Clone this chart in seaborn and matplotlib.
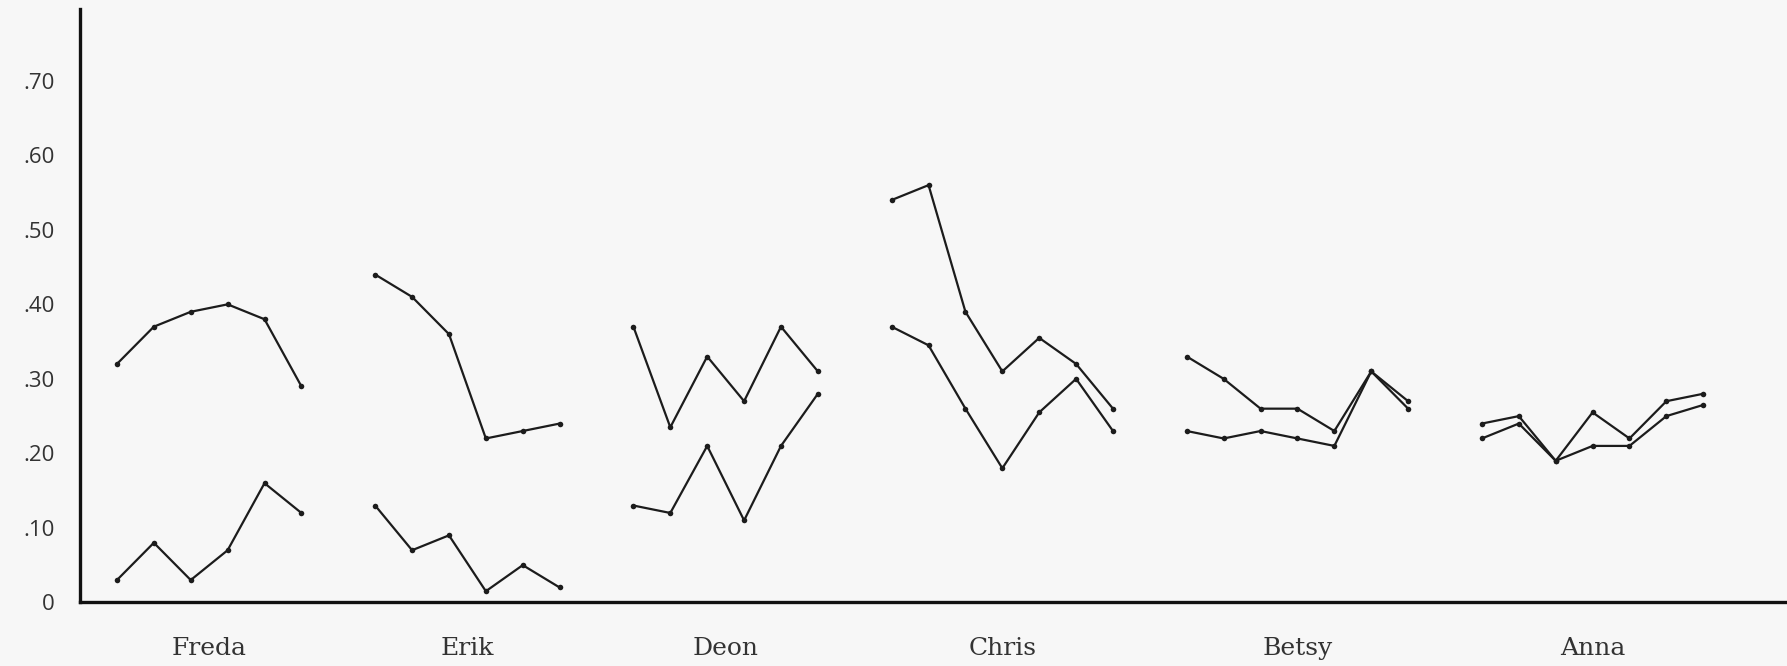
import matplotlib
matplotlib.use("Agg")
import matplotlib.pyplot as plt
import matplotlib.transforms as mtransforms
import seaborn as sns
import pandas as pd

# ---- data ----
people = ["Freda", "Erik", "Deon", "Chris", "Betsy", "Anna"]

freda_upper = [0.32, 0.37, 0.39, 0.40, 0.38, 0.29]
freda_lower = [0.03, 0.08, 0.03, 0.07, 0.16, 0.12]
erik_upper = [0.44, 0.41, 0.36, 0.22, 0.23, 0.24]
erik_lower = [0.13, 0.07, 0.09, 0.015, 0.05, 0.02]
deon_upper = [0.37, 0.235, 0.33, 0.27, 0.37, 0.31]
deon_lower = [0.13, 0.12, 0.21, 0.11, 0.21, 0.28]
chris_upper = [0.54, 0.56, 0.39, 0.31, 0.355, 0.32, 0.26]
chris_lower = [0.37, 0.345, 0.26, 0.18, 0.255, 0.30, 0.23]
betsy_upper = [0.33, 0.30, 0.26, 0.26, 0.23, 0.31, 0.27]
betsy_lower = [0.23, 0.22, 0.23, 0.22, 0.21, 0.31, 0.26]
anna_upper = [0.24, 0.25, 0.19, 0.255, 0.22, 0.27, 0.28]
anna_lower = [0.22, 0.24, 0.19, 0.21, 0.21, 0.25, 0.265]

y_ticks = [0, 0.10, 0.20, 0.30, 0.40, 0.50, 0.60, 0.70]
y_tick_labels = ["0", ".10", ".20", ".30", ".40", ".50", ".60", ".70"]

series = {
    "Freda": (freda_upper, freda_lower),
    "Erik": (erik_upper, erik_lower),
    "Deon": (deon_upper, deon_lower),
    "Chris": (chris_upper, chris_lower),
    "Betsy": (betsy_upper, betsy_lower),
    "Anna": (anna_upper, anna_lower),
}

# ---- build long table ----
rows = []
group_centers = {}
tick_positions = []
start = 0
for name in people:
    upper, lower = series[name]
    n = len(upper)
    for j in range(n):
        pos = start + j
        tick_positions.append(pos)
        rows.append({"person": name, "line": name + "_upper", "pos": pos, "value": upper[j]})
        rows.append({"person": name, "line": name + "_lower", "pos": pos, "value": lower[j]})
    group_centers[name] = start + (n - 1) / 2
    start += n + 1
df = pd.DataFrame(rows)

# ---- plot ----
sns.set_theme(style="white")
plt.rcParams["font.family"] = ["Open Sans", "DejaVu Sans"]

fig = plt.figure(figsize=(17.87, 6.66), dpi=100)
bg = "#f7f7f7"
fig.patch.set_facecolor(bg)
ax = fig.add_axes([0.0448, 0.0955, 0.9552, 0.8917])
ax.set_facecolor(bg)

sns.lineplot(
    data=df, x="pos", y="value", units="line", estimator=None,
    color="#1c1c1c", linewidth=1.6, marker="o", markersize=4,
    markeredgewidth=0, ax=ax, legend=False,
)

ax.set_xlim(-1, 45.27)
ax.set_ylim(0, 0.797)

for s in ["top", "right"]:
    ax.spines[s].set_visible(False)
for s in ["left", "bottom"]:
    ax.spines[s].set_color("#111111")
    ax.spines[s].set_linewidth(2.4)

ax.set_yticks(y_ticks)
ax.set_yticklabels(y_tick_labels)
ax.tick_params(axis="y", direction="in", length=5, width=1.5, colors="#111111",
               labelsize=16, pad=18, labelcolor="#333333")
ax.set_xticks(tick_positions)
ax.set_xticklabels([])
ax.tick_params(axis="x", direction="in", length=5, width=1.8, colors="#111111")
ax.set_xlabel("")
ax.set_ylabel("")
ax.grid(False)

trans = mtransforms.blended_transform_factory(ax.transData, ax.transAxes)
for name in people:
    ax.text(group_centers[name], -0.077, name, transform=trans, ha="center",
            va="center", fontsize=18, family="DejaVu Serif", color="#333333")

fig.savefig("out.png", dpi=100, facecolor=bg)
